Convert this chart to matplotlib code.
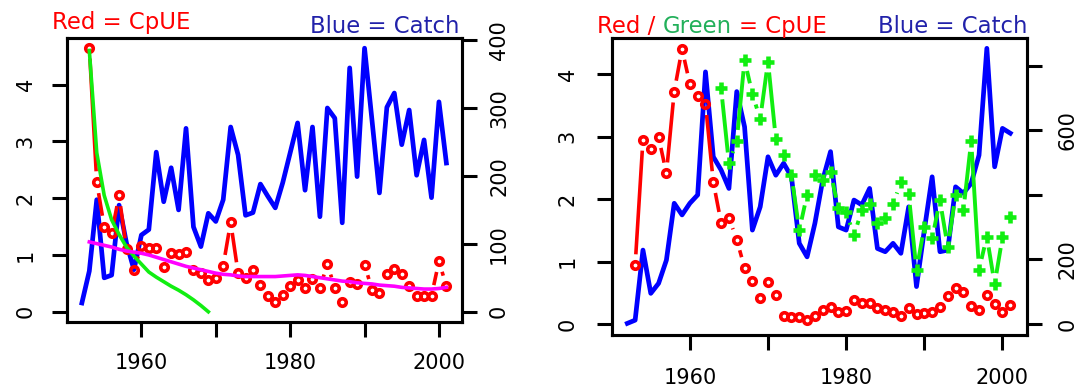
import numpy as np
import matplotlib
matplotlib.use("Agg")
import matplotlib.pyplot as plt

# ---------------- data ----------------
years_catch = list(range(1952, 2002))
years_cpue = list(range(1953, 2002))

# left panel
left_catch = [13, 60, 165, 50, 54, 157, 101, 62, 113, 121, 235, 162, 212, 150, 270,
              125, 96, 145, 133, 165, 272, 231, 142, 146, 188, 170, 153, 190, 234, 278,
              179, 272, 140, 300, 285, 131, 359, 199, 388, 282, 175, 301, 322, 246, 297,
              201, 253, 168, 309, 219]
left_cpue = [4.65, 2.28, 1.50, 1.38, 2.05, 1.10, 0.73, 1.16, 1.12, 1.12, 0.78, 1.03, 1.02,
             1.05, 0.74, 0.68, 0.56, 0.60, 0.81, 1.58, 0.68, 0.60, 0.73, 0.47, 0.27, 0.18,
             0.30, 0.45, 0.56, 0.42, 0.58, 0.42, 0.84, 0.42, 0.18, 0.53, 0.49, 0.83, 0.39,
             0.33, 0.67, 0.76, 0.66, 0.45, 0.28, 0.28, 0.28, 0.89, 0.45]
green_years = list(range(1953, 1970))
green_curve = [4.60, 2.80, 2.05, 1.62, 1.36, 1.14, 0.98, 0.84, 0.70, 0.61, 0.53, 0.45,
               0.38, 0.30, 0.21, 0.11, 0.0]
magenta_curve = [1.23, 1.20, 1.17, 1.14, 1.10, 1.07, 1.05, 1.03, 1.00, 0.96, 0.92, 0.88,
                 0.84, 0.80, 0.77, 0.74, 0.71, 0.68, 0.66, 0.65, 0.63, 0.62, 0.62, 0.62,
                 0.62, 0.62, 0.63, 0.64, 0.65, 0.64, 0.62, 0.60, 0.58, 0.56, 0.54, 0.53,
                 0.51, 0.50, 0.49, 0.47, 0.46, 0.45, 0.43, 0.42, 0.41, 0.40, 0.40, 0.41, 0.43]

# right panel
right_catch = [2, 12, 229, 95, 126, 198, 374, 338, 374, 400, 781, 518, 477, 420, 720,
               611, 291, 363, 518, 461, 498, 456, 250, 208, 312, 446, 534, 301, 291, 384,
               369, 420, 234, 224, 250, 219, 363, 116, 291, 456, 224, 229, 425, 405, 436,
               523, 854, 487, 606, 591]
right_cpue = [0.94, 2.95, 2.80, 2.99, 2.41, 3.72, 4.40, 3.84, 3.65, 3.52, 2.27, 1.62, 1.70,
              1.35, 0.90, 0.69, 0.41, 0.67, 0.46, 0.13, 0.11, 0.11, 0.06, 0.13, 0.23, 0.27,
              0.20, 0.21, 0.39, 0.34, 0.33, 0.25, 0.22, 0.20, 0.13, 0.25, 0.16, 0.17, 0.20,
              0.27, 0.45, 0.58, 0.52, 0.29, 0.22, 0.46, 0.32, 0.20, 0.30]
green_cpue_years = list(range(1964, 2002))
green_cpue = [3.77, 2.57, 2.93, 4.22, 3.68, 3.28, 4.20, 2.96, 2.70, 2.38, 1.50, 2.07, 2.38,
              2.30, 2.43, 1.85, 1.79, 1.42, 1.82, 1.92, 1.62, 1.69, 1.92, 2.27, 2.08, 0.86,
              1.56, 1.37, 1.98, 1.23, 2.06, 1.82, 2.93, 0.87, 1.40, 0.64, 1.39, 1.72]

xticks = [1960, 1970, 1980, 1990, 2000]
xticklabels = ["1960", "", "1980", "", "2000"]
left_yticks = [0, 1, 2, 3, 4]
left_y2ticks = [0, 100, 200, 300, 400]
left_y2labels = ["0", "100", "200", "300", "400"]
right_y2ticks = [0, 200, 400, 600, 800]
right_y2labels = ["0", "200", "", "600", ""]

# ---------------- style ----------------
W, H, DPI = 1078, 390, 100
RED = "#ff0000"
BLUE = "#0000ff"
GREEN = "#11ee11"
MAGENTA = "#ff00ff"
TXT_BLUE = "#2222aa"
TXT_GREEN = "#22b05a"
TICK_FS = 15.0
TITLE_FS = 16.4
LW_FRAME = 2.2

plt.rcParams["font.family"] = ["DejaVu Sans"]
fig = plt.figure(figsize=(W / DPI, H / DPI), dpi=DPI)


def px_rect(x0, y0, x1, y1):
    return [x0 / W, 1 - y1 / H, (x1 - x0) / W, (y1 - y0) / H]


def setup(ax, ax2, ylim, y2lim, yticks, y2ticks, y2labels, padl, padr, padx):
    ax.set_xlim(1950.0, 2003.1)
    ax.set_ylim(*ylim)
    ax2.set_ylim(*y2lim)
    ax.set_xticks(xticks)
    ax.set_xticklabels(xticklabels)
    ax.set_yticks(yticks)
    ax.set_yticklabels([str(v) for v in yticks])
    ax2.set_yticks(y2ticks)
    ax2.set_yticklabels(y2labels)
    for a in (ax, ax2):
        for s in a.spines.values():
            s.set_linewidth(LW_FRAME)
    ax.tick_params(axis="x", direction="out", length=10.5, width=LW_FRAME,
                   labelsize=TICK_FS, pad=padx)
    ax.tick_params(axis="y", direction="out", length=10.5, width=LW_FRAME,
                   labelsize=TICK_FS, pad=padl, labelrotation=90)
    ax2.tick_params(axis="y", direction="out", length=10.5, width=LW_FRAME,
                    labelsize=TICK_FS, pad=padr, labelrotation=90)
    for lbl in ax.get_yticklabels() + ax2.get_yticklabels():
        lbl.set_verticalalignment("center")
    ax.set_zorder(2)
    ax2.set_zorder(1)
    ax.patch.set_visible(False)


def type_b(ax, x, y, color, lw, marker, ms, mew, gap_px=11):
    pts = ax.transData.transform(np.column_stack([x, y]))
    inv = ax.transData.inverted()
    for p0, p1 in zip(pts[:-1], pts[1:]):
        d = p1 - p0
        L = np.hypot(*d)
        if L <= 2 * gap_px + 1:
            continue
        u = d / L
        seg = inv.transform(np.array([p0 + u * gap_px, p1 - u * gap_px]))
        ax.plot(seg[:, 0], seg[:, 1], color=color, lw=lw, solid_capstyle="butt")
    ax.plot(x, y, linestyle="none", marker=marker, ms=ms, mew=mew,
            mfc="none", mec=color)


# ---------------- left panel ----------------
axL = fig.add_axes(px_rect(67, 38, 462, 322))
axL2 = axL.twinx()
setup(axL, axL2, (-0.18, 4.82), (-15, 403), left_yticks, left_y2ticks, left_y2labels,
      padl=12, padr=9, padx=12)
axL2.plot(years_catch, left_catch, color=BLUE, lw=3.4, solid_joinstyle="round")
type_b(axL, years_cpue, left_cpue, RED, 2.6, "o", 5.4, 2.6)
axL.plot(green_years, green_curve, color=GREEN, lw=2.6)
axL.plot(years_cpue, magenta_curve, color=MAGENTA, lw=2.6)

# ---------------- right panel ----------------
axR = fig.add_axes(px_rect(611.7, 38, 1026.7, 335))
axR2 = axR.twinx()
setup(axR, axR2, (-0.175, 4.576), (-34, 886), left_yticks, right_y2ticks, right_y2labels,
      padl=14, padr=12, padx=13)
axR2.plot(years_catch, right_catch, color=BLUE, lw=3.4, solid_joinstyle="round")
type_b(axR, years_cpue, right_cpue, RED, 2.6, "o", 5.4, 2.6)
type_b(axR, green_cpue_years, green_cpue, GREEN, 2.8, "+", 9.0, 3.3)

# ---------------- titles ----------------
renderer = fig.canvas.get_renderer()


def ink_width(s):
    t = fig.text(0, 0, s, fontsize=TITLE_FS)
    w = t.get_window_extent(renderer).width
    t.remove()
    return w


space_w = ink_width("a a") - ink_width("aa")

fig.text(52 / W, 1 - 28.5 / H, "Red = CpUE", color=RED, fontsize=TITLE_FS,
         ha="left", va="baseline")
fig.text(459 / W, 1 - 32.7 / H, "Blue = Catch", color=TXT_BLUE, fontsize=TITLE_FS,
         ha="right", va="baseline")
fig.text(1027.7 / W, 1 - 32.7 / H, "Blue = Catch", color=TXT_BLUE, fontsize=TITLE_FS,
         ha="right", va="baseline")

x = 597.0
for s, c in [("Red /", RED), ("Green", TXT_GREEN), ("= CpUE", RED)]:
    t = fig.text(x / W, 1 - 32.7 / H, s, color=c, fontsize=TITLE_FS,
                 ha="left", va="baseline")
    x += t.get_window_extent(renderer).width + space_w

fig.savefig("out.png", dpi=DPI)
